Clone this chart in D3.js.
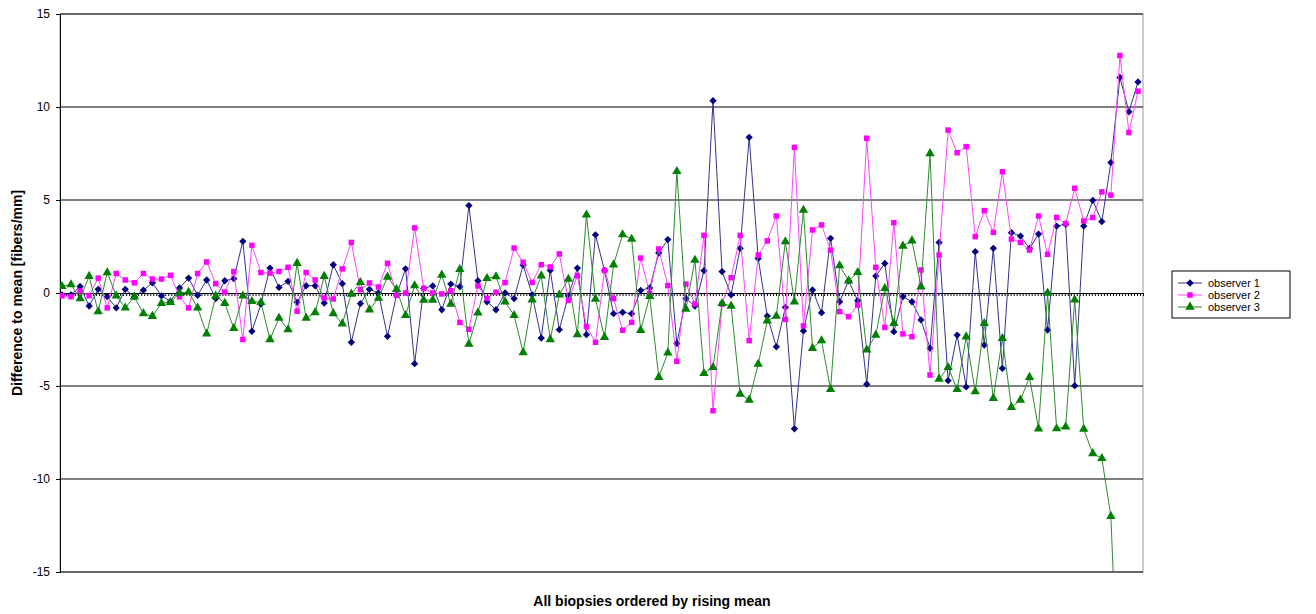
<!DOCTYPE html>
<html lang="en">
<head>
<meta charset="UTF-8">
<title>Difference to mean</title>
<script src="https://d3js.org/d3.v7.min.js"></script>
<style>
  body { margin: 0; background: #fff; }
  text { font-family: Arial, "Liberation Sans", sans-serif; }
</style>
</head>
<body>
<script>
const width = 1316;
const height = 614;

// biopsies, ordered by rising mean
const biopsies = d3.range(1, 121);
const yTicks = [-15, -10, -5, 0, 5, 10, 15];
const seriesNames = ["observer 1", "observer 2", "observer 3"];

const observer1 = [
  -0.1, -0.1, 0.35, -0.7, 0.2, -0.2, -0.8, 0.2, -0.2, 0.15,
  0.55, -0.15, -0.45, 0.27, 0.8, -0.12, 0.7, -0.3, 0.66, 0.77,
  2.78, -2.06, -0.6, 1.34, 0.3, 0.63, -0.5, 0.39, 0.39, -0.54,
  1.52, 0.5, -2.65, -0.57, 0.2, 0, -2.33, -0.1, 1.3, -3.8,
  0.25, 0.38, -0.9, 0.48, 0.34, 4.7, 0.66, -0.47, -0.9, 0,
  -0.3, 1.5, -0.1, -2.42, 1.22, -1.97, -0.15, 1.34, -2.24, 3.13,
  1.2, -1.11, -1.04, -1.11, 0.14, 0.27, 2.15, 2.87, -2.72, -0.3,
  -0.7, 1.2, 10.34, 1.15, -0.1, 2.4, 8.37, 1.86, -1.24, -2.89,
  -0.77, -7.3, -2.04, 0.16, -1.06, 2.94, -0.47, 0.66, -0.41, -4.9,
  0.91, 1.59, -2.08, -0.2, -0.47, -1.45, -2.97, 2.72, -4.71, -2.26,
  -5.05, 2.22, -2.8, 2.4, -4.05, 3.24, 3.06, 2.4, 3.17, -1.99,
  3.6, 3.69, -4.98, 3.6, 4.98, 3.84, 7.01, 11.59, 9.74, 11.35
];

const observer2 = [
  -0.15, -0.2, 0.1, -0.15, 0.8, -0.8, 1.05, 0.7, 0.55, 1.05,
  0.75, 0.75, 0.95, -0.2, -0.8, 1.05, 1.67, 0.5, 0.05, 1.15,
  -2.5, 2.56, 1.1, 1.07, 1.16, 1.38, -0.98, 1.1, 0.7, -0.27,
  -0.32, 1.3, 2.72, 0.18, 0.54, 0.32, 1.6, -0.12, 0, 3.5,
  0.25, 0, -0.05, 0.12, -1.58, -1.95, 0.38, -0.29, 0.04, 0.56,
  2.42, 1.65, 0.57, 1.52, 1.4, 2.1, -0.4, 0.93, -1.8, -2.65,
  1.22, -0.3, -2.0, -1.58, 1.88, -0.04, 2.37, 0.4, -3.67, 0.48,
  -0.59, 3.1, -6.33, -0.6, 0.82, 3.1, -2.56, 2.04, 2.8, 4.14,
  -1.42, 7.83, -1.77, 3.39, 3.66, 2.31, -1.0, -1.27, -0.65, 8.32,
  1.38, -1.85, 3.78, -2.2, -2.35, 1.24, -4.41, 2.04, 8.76, 7.54,
  7.87, 3.03, 4.43, 3.26, 6.52, 2.9, 2.72, 2.31, 4.14, 2.08,
  4.06, 3.73, 5.63, 3.87, 4.06, 5.44, 5.26, 12.77, 8.63, 10.85
];

const observer3 = [
  0.36, 0.45, -0.3, 0.9, -1.0, 1.1, -0.15, -0.8, -0.2, -1.1,
  -1.25, -0.55, -0.5, 0, 0.05, -0.8, -2.2, -0.15, -0.55, -1.9,
  -0.15, -0.45, -0.5, -2.5, -1.35, -1.97, 1.6, -1.35, -1.05, 0.9,
  -1.1, -1.65, -0.05, 0.57, -0.9, -0.27, 0.86, 0.2, -1.2, 0.4,
  -0.38, -0.38, 0.97, -0.6, 1.27, -2.75, -1.06, 0.79, 0.88, -0.47,
  -1.2, -3.2, -0.36, 0.93, -2.5, -0.1, 0.75, -2.24, 4.2, -0.32,
  -2.38, 1.52, 3.14, 2.9, -2.0, -0.18, -4.53, -3.22, 6.54, -0.86,
  1.77, -4.32, -4.0, -0.56, -0.7, -5.43, -5.75, -3.82, -1.49, -1.24,
  2.76, -0.47, 4.46, -2.97, -2.56, -5.18, 1.47, 0.66, 1.11, -3.06,
  -2.26, 0.25, -1.63, 2.53, 2.81, 0.34, 7.5, -4.62, -4.0, -5.18,
  -2.35, -5.3, -1.63, -5.66, -2.44, -6.14, -5.75, -4.53, -7.3, 0,
  -7.29, -7.2, -0.37, -7.32, -8.63, -8.89, -12.0, -24, -28, -30
];

const plot = { left: 60, right: 1143, top: 14, bottom: 572 };

const x = d3.scalePoint()
  .domain(biopsies)
  .range([62, 1138]);

const y = d3.scaleLinear()
  .domain([-15, 15])
  .range([plot.bottom, plot.top]);

const colors = ["#000080", "#ff00ff", "#008000"];
const lineColors = ["#33338f", "#ff44ff", "#2e8b2e"];

const svg = d3.select("body").append("svg")
  .attr("width", width)
  .attr("height", height);

svg.append("defs").append("clipPath").attr("id", "plotclip")
  .append("rect")
  .attr("x", plot.left).attr("y", plot.top)
  .attr("width", plot.right - plot.left)
  .attr("height", plot.bottom - plot.top);

// plot frame
svg.append("rect")
  .attr("x", plot.left).attr("y", plot.top)
  .attr("width", plot.right - plot.left)
  .attr("height", plot.bottom - plot.top)
  .attr("fill", "#fff")
  .attr("stroke", "#9a9a9a");

// gridlines
svg.append("g")
  .selectAll("line")
  .data(yTicks.filter(d => d !== 0))
  .join("line")
  .attr("x1", plot.left).attr("x2", plot.right)
  .attr("y1", d => y(d)).attr("y2", d => y(d))
  .attr("stroke", "#000")
  .attr("stroke-width", 1);

// y axis (plain hyphen for negatives, as in the source)
const yAxis = d3.axisLeft(y).tickValues(yTicks).tickSize(4).tickPadding(6)
  .tickFormat(d => String(d));
const gy = svg.append("g")
  .attr("transform", `translate(${plot.left},0)`)
  .call(yAxis);
gy.select(".domain").attr("stroke", "#000");
gy.selectAll(".tick text").attr("font-size", 12).attr("fill", "#000");

// category axis along zero, with small ticks
const xt = d3.scaleLinear().domain([0, 360]).range([plot.left, plot.right]);
const gx = svg.append("g")
  .attr("transform", `translate(0,${y(0)})`)
  .call(d3.axisBottom(xt).tickValues(d3.range(0, 361)).tickSize(3).tickFormat(""));
gx.select(".domain").attr("stroke", "#000");
gx.selectAll(".tick line").attr("stroke", "#000");

// series
const allSeries = [observer1, observer2, observer3];
const line = d3.line()
  .x((d, i) => x(biopsies[i]))
  .y(d => y(d));

const symbols = [
  d3.symbol().type(d3.symbolDiamond2).size(34),
  d3.symbol().type(d3.symbolSquare).size(30),
  d3.symbol().type(d3.symbolTriangle).size(38)
];

const plotG = svg.append("g").attr("clip-path", "url(#plotclip)");

allSeries.forEach((values, s) => {
  const g = plotG.append("g").attr("class", "series");
  g.append("path")
    .datum(values)
    .attr("d", line)
    .attr("fill", "none")
    .attr("stroke", lineColors[s])
    .attr("stroke-width", 1);
  g.selectAll("path.marker")
    .data(values)
    .join("path")
    .attr("class", "marker")
    .attr("d", symbols[s])
    .attr("fill", colors[s])
    .attr("transform", (d, i) => `translate(${x(biopsies[i])},${y(d)})`);
});

// axis titles
svg.append("text")
  .attr("x", 652).attr("y", 606)
  .attr("text-anchor", "middle")
  .attr("font-size", 14).attr("font-weight", "bold")
  .text("All biopsies ordered by rising mean");

svg.append("text")
  .attr("transform", `translate(22,${y(0)}) rotate(-90)`)
  .attr("text-anchor", "middle")
  .attr("font-size", 14).attr("font-weight", "bold")
  .text("Difference to mean [fibers/mm]");

// legend
const legend = svg.append("g").attr("transform", "translate(1172,271)");
legend.append("rect")
  .attr("width", 118).attr("height", 47)
  .attr("fill", "#fff").attr("stroke", "#000");
seriesNames.forEach((name, s) => {
  const row = legend.append("g").attr("transform", `translate(0,${12 + s * 12})`);
  row.append("line")
    .attr("x1", 6).attr("x2", 30)
    .attr("stroke", lineColors[s]);
  row.append("path")
    .attr("d", symbols[s])
    .attr("fill", colors[s])
    .attr("transform", "translate(18,0)");
  row.append("text")
    .attr("x", 36).attr("y", 4)
    .attr("font-size", 11)
    .text(name);
});
</script>
</body>
</html>
